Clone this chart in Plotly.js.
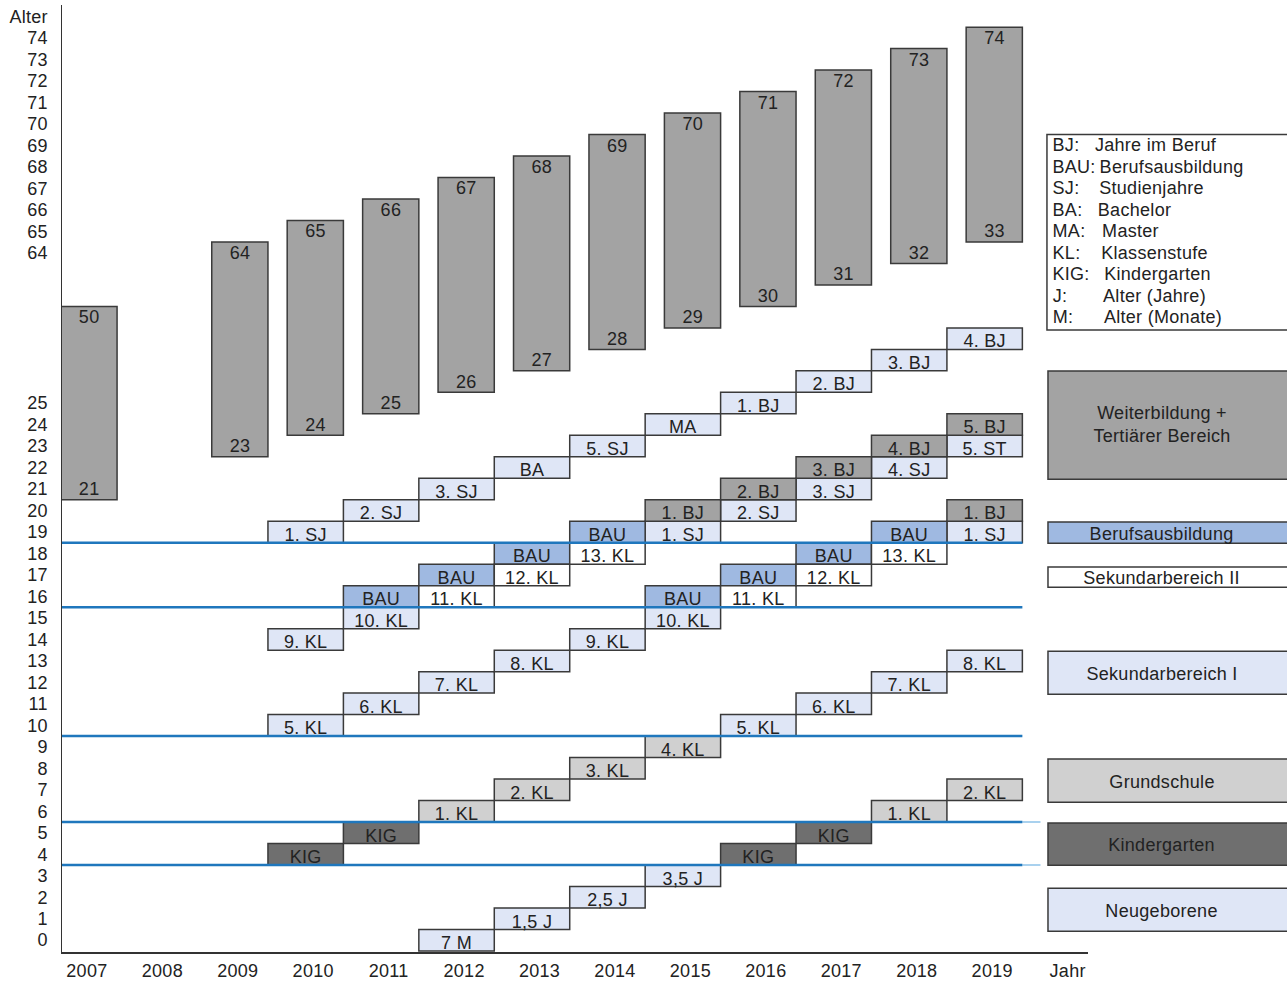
<!DOCTYPE html>
<html><head><meta charset="utf-8">
<script src="https://cdn.plot.ly/plotly-3.0.1.min.js"></script>
<style>html,body{margin:0;padding:0;background:#fff}#chart{width:1287px;height:983px}
#chart svg text{letter-spacing:0.3px}</style>
</head><body><div id="chart"></div>
<script>
// ---------- data ----------
const years = [2007,2008,2009,2010,2011,2012,2013,2014,2015,2016,2017,2018,2019];
const yearTickLabels = years.map(String).concat(['Jahr']);
const lowAgeTicks = [0,1,2,3,4,5,6,7,8,9,10,11,12,13,14,15,16,17,18,19,20,21,22,23,24,25];
const highAgeTicks = [64,65,66,67,68,69,70,71,72,73,74];
const ageAxisTitle = 'Alter';

// grey life-span boxes (Weiterbildung + Tertiärer Bereich)
const boxYears     = [2007,2009,2010,2011,2012,2013,2014,2015,2016,2017,2018,2019];
const boxBottomAge = [21,23,24,25,26,27,28,29,30,31,32,33];
const boxTopAge    = [50,64,65,66,67,68,69,70,71,72,73,74];

// cohort cells
const cellYears = [2010,2010,2010,2010, 2011,2011,2011,2011,2011, 2012,2012,2012,2012,2012,2012,
  2013,2013,2013,2013,2013,2013, 2014,2014,2014,2014,2014,2014, 2015,2015,2015,2015,2015,2015,2015,
  2016,2016,2016,2016,2016,2016,2016, 2017,2017,2017,2017,2017,2017,2017,
  2018,2018,2018,2018,2018,2018,2018, 2019,2019,2019,2019,2019,2019,2019];
const cellAges = [19,14,10,4, 20,16,15,11,5, 21,17,16,12,6,0, 22,18,17,13,7,1, 23,19,18,14,8,2,
  24,20,19,16,15,9,3, 25,21,20,17,16,10,4, 26,22,21,18,17,11,5, 27,23,22,19,18,12,6, 28,24,23,20,19,13,7];
const cellLabels = ['1. SJ','9. KL','5. KL','KIG', '2. SJ','BAU','10. KL','6. KL','KIG',
  '3. SJ','BAU','11. KL','7. KL','1. KL','7 M', 'BA','BAU','12. KL','8. KL','2. KL','1,5 J',
  '5. SJ','BAU','13. KL','9. KL','3. KL','2,5 J', 'MA','1. BJ','1. SJ','BAU','10. KL','4. KL','3,5 J',
  '1. BJ','2. BJ','2. SJ','BAU','11. KL','5. KL','KIG', '2. BJ','3. BJ','3. SJ','BAU','12. KL','6. KL','KIG',
  '3. BJ','4. BJ','4. SJ','BAU','13. KL','7. KL','1. KL', '4. BJ','5. BJ','5. ST','1. BJ','1. SJ','8. KL','2. KL'];
const cellKinds = ['T','S1','S1','KIG', 'T','BAU','S1','S1','KIG', 'T','BAU','S2','S1','GS','NB',
  'T','BAU','S2','S1','GS','NB', 'T','BAU','S2','S1','GS','NB', 'T','WB','T','BAU','S1','GS','NB',
  'T','WB','T','BAU','S2','S1','KIG', 'T','WB','T','BAU','S2','S1','KIG',
  'T','WB','T','BAU','S2','S1','GS', 'T','WB','T','WB','T','S1','GS'];

// stage boundaries (first age of a new stage) -> blue lines
const stageStartAges = [4, 6, 10, 16, 19];

// legends
const stageLegendKinds  = ['WB','BAU','S2','S1','GS','KIG','NB'];
const stageLegendLabels = ['Weiterbildung +<br>Tertiärer Bereich','Berufsausbildung','Sekundarbereich II',
  'Sekundarbereich I','Grundschule','Kindergarten','Neugeborene'];
const abbrLabels = ['BJ:','BAU:','SJ:','BA:','MA:','KL:','KIG:','J:','M:'];
const abbrMeanings = ['Jahre im Beruf','Berufsausbildung','Studienjahre','Bachelor','Master',
  'Klassenstufe','Kindergarten','Alter (Jahre)','Alter (Monate)'];

// ---------- styling / layout helpers ----------
const kindColors = {T:'#dfe6f6', NB:'#dfe6f6', S1:'#dfe6f6', BAU:'#9fb9e1', S2:'#ffffff',
  GS:'#d0d0d0', KIG:'#6f6f6f', WB:'#a3a3a3'};
// broken age axis: 0-33 one row per year, 64-74 shifted down 32 rows, 50 sits at the break (row 29)
function ageRow(age){ if(age >= 64) return age - 32; if(age > 33) return 29; return age; }
const FONT = 'Liberation Sans, Arial, Helvetica, sans-serif';
const FS = 18;
const TXT = '#222';
const EDGE = '#3a3a3a';

const traces = [];
// grey boxes
traces.push({type:'bar', x:boxYears, base:boxBottomAge.map(a=>ageRow(a)-0.5),
  y:boxTopAge.map((t,i)=>ageRow(t)-ageRow(boxBottomAge[i])+1),
  width:0.745, offset:-0.345, marker:{color:kindColors.WB, line:{color:EDGE,width:1.5}},
  hoverinfo:'skip', showlegend:false, textposition:'none'});
// cells per kind
Object.keys(kindColors).forEach(k=>{
  const idx = cellKinds.map((c,i)=>c===k?i:-1).filter(i=>i>=0);
  if(!idx.length) return;
  traces.push({type:'bar', x:idx.map(i=>cellYears[i]), base:idx.map(i=>ageRow(cellAges[i])-0.5),
    y:idx.map(()=>1), width:1, offset:-0.6,
    marker:{color:kindColors[k], line:{color:EDGE,width:1.5}},
    hoverinfo:'skip', showlegend:false, textposition:'none'});
});
// cell labels
traces.push({type:'scatter', mode:'text', x:cellYears.map(y=>y-0.1), y:cellAges.map(a=>ageRow(a)-0.2),
  text:cellLabels, textposition:'middle center', textfont:{family:FONT,size:FS,color:TXT},
  hoverinfo:'skip', showlegend:false, cliponaxis:false});
// box labels
traces.push({type:'scatter', mode:'text',
  x:boxYears.concat(boxYears).map(y=>y+0.03),
  y:boxTopAge.map(ageRow).concat(boxBottomAge.map(ageRow)).map(v=>v-0.08),
  text:boxTopAge.map(String).concat(boxBottomAge.map(String)),
  textposition:'middle center', textfont:{family:FONT,size:FS,color:TXT},
  hoverinfo:'skip', showlegend:false, cliponaxis:false});

const xStart = 2006.67, xEnd = 2020.27, lineEnd = 2019.4, fadeEnd = 2019.64;
const shapes = [];
stageStartAges.forEach(a=>{
  if (a <= 6) {
    shapes.push({type:'line', xref:'x', yref:'y', x0:lineEnd, x1:fadeEnd, y0:a-0.5, y1:a-0.5,
      line:{color:'#a9d1ee', width:2}, layer:'above'});
  }
  shapes.push({type:'line', xref:'x', yref:'y', x0:xStart, x1:lineEnd, y0:a-0.5, y1:a-0.5,
    line:{color:'#1f77bd', width:2.5}, layer:'above'});
});
// stage legend boxes
const legendRows = {WB:[21.45,26.49], BAU:[18.48,19.46], S2:[16.43,17.37], S1:[11.45,13.45],
  GS:[6.42,8.43], KIG:[3.49,5.45], NB:[0.42,2.42]};
const annotations = [];
stageLegendKinds.forEach((k,i)=>{
  const r = legendRows[k];
  shapes.push({type:'rect', xref:'paper', yref:'y', x0:0.961, x1:1.2, y0:r[0], y1:r[1],
    fillcolor:kindColors[k], line:{color:EDGE,width:1.5}, layer:'above'});
  annotations.push({xref:'paper', yref:'y', x:1.0721, y:(r[0]+r[1])/2 - (k==='WB'?-0.05:0.05),
    text:stageLegendLabels[i], showarrow:false, xanchor:'center', yanchor:'middle',
    font:{family:FONT,size:FS,color:TXT}});
});
// abbreviation box
shapes.push({type:'rect', xref:'paper', yref:'y', x0:0.960, x1:1.2, y0:28.4, y1:37.5,
  fillcolor:'#fff', line:{color:EDGE,width:1.5}, layer:'above'});
const descPx = [1096,1101,1100,1098,1102,1102,1105,1104,1105];
const px2paper = p => (p-62)/1026;
abbrLabels.forEach((a,i)=>{
  annotations.push({xref:'paper', yref:'y', x:px2paper(1051), y:37-i, text:a, showarrow:false,
    xanchor:'left', yanchor:'middle', font:{family:FONT,size:FS,color:TXT}});
  annotations.push({xref:'paper', yref:'y', x:px2paper(descPx[i]-1), y:37-i, text:abbrMeanings[i], showarrow:false,
    xanchor:'left', yanchor:'middle', font:{family:FONT,size:FS,color:TXT}});
});

const yTickVals = lowAgeTicks.map(ageRow).concat(highAgeTicks.map(ageRow)).concat([ageRow(74)+1]);
const yTickText = lowAgeTicks.map(String).concat(highAgeTicks.map(String)).concat([ageAxisTitle]);

const layout = {
  width:1287, height:983, margin:{l:62, r:199, t:5, b:31},
  paper_bgcolor:'#fff', plot_bgcolor:'#fff', barmode:'overlay', showlegend:false,
  font:{family:FONT, size:FS, color:TXT},
  xaxis:{type:'linear', range:[xStart,xEnd], tickvals:years.concat([2020]), ticktext:yearTickLabels,
    showgrid:false, zeroline:false, showline:true, linecolor:'#333', linewidth:1.5, ticks:'',
    ticklabelstandoff:2, tickfont:{family:FONT,size:FS,color:TXT}, fixedrange:true},
  yaxis:{type:'linear', range:[-0.55,43.53], tickvals:yTickVals, ticktext:yTickText,
    showgrid:false, zeroline:false, showline:true, linecolor:'#333', linewidth:1.5, ticks:'',
    ticklabelstandoff:9, tickfont:{family:FONT,size:FS,color:TXT}, fixedrange:true},
  shapes:shapes, annotations:annotations
};
Plotly.newPlot('chart', traces, layout, {displayModeBar:false, staticPlot:true});
</script>
</body></html>
